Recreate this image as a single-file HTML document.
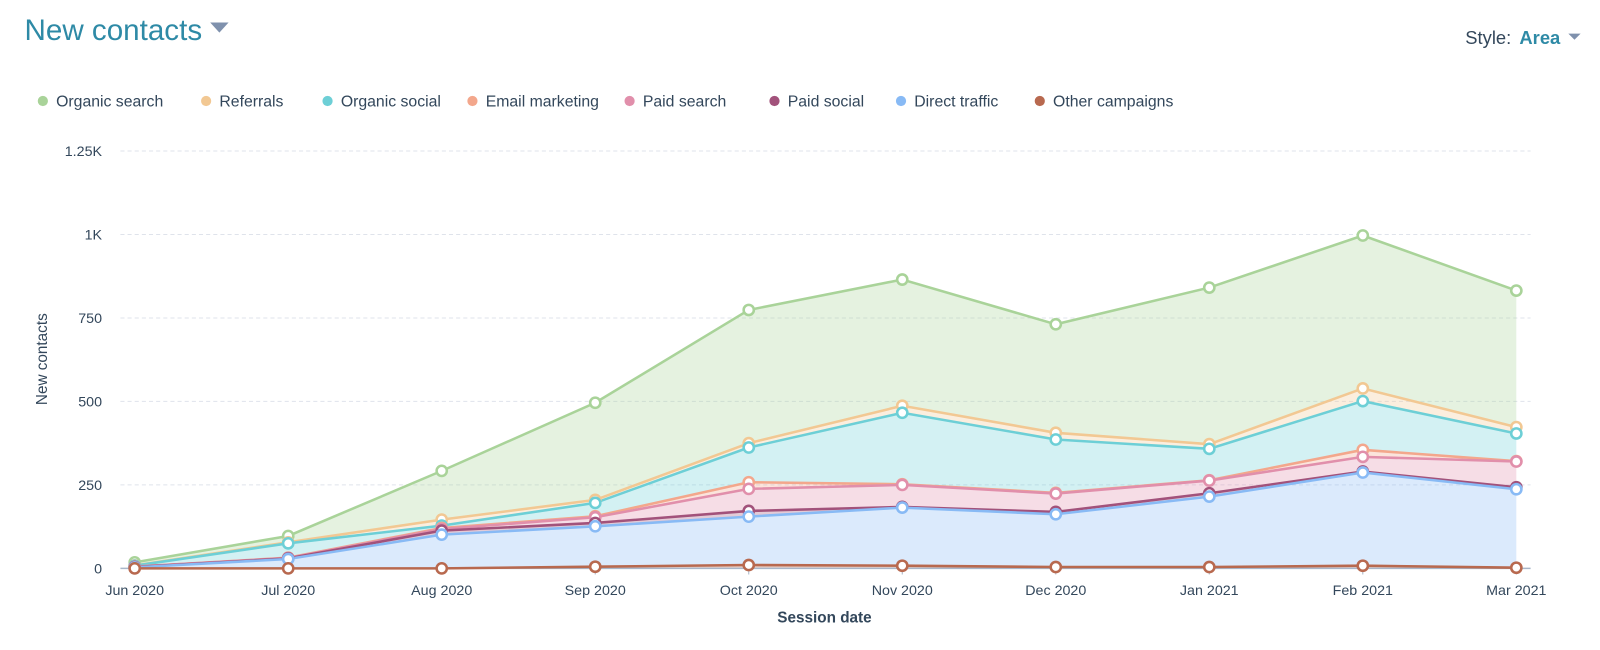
<!DOCTYPE html>
<html><head><meta charset="utf-8">
<style>
body{margin:0;width:1600px;height:650px;background:#fff;font-family:"Liberation Sans",sans-serif;overflow:hidden;position:relative}
#wrap{position:absolute;left:0;top:0;width:1568px;height:637px;transform:scale(1.0204);transform-origin:0 0}
.title{position:absolute;left:24px;top:14px;font-size:29px;color:#2e8aa6;font-weight:500}
.caret{display:inline-block;width:0;height:0;border-left:9px solid transparent;border-right:9px solid transparent;border-top:10px solid #7f91ad;vertical-align:middle;margin-left:8px;position:relative;top:-4px}
.style{position:absolute;left:1436px;top:27px;font-size:18px;color:#33475b}
.style b{color:#2e8aa6;margin-left:8px}
.scaret{display:inline-block;width:0;height:0;border-left:6px solid transparent;border-right:6px solid transparent;border-top:6px solid #7f91ad;margin-left:8px;vertical-align:middle;position:relative;top:-2px}
</style></head><body>
<div id="wrap">
<div class="title">New contacts<span class="caret"></span></div>
<div class="style">Style:<b>Area</b><span class="scaret"></span></div>
<svg id="chart" width="1568" height="637" style="position:absolute;left:0;top:0"></svg>
</div>
<script>
const categories=["Jun 2020","Jul 2020","Aug 2020","Sep 2020","Oct 2020","Nov 2020","Dec 2020","Jan 2021","Feb 2021","Mar 2021"];
const seriesNames=["Other campaigns","Direct traffic","Paid social","Paid search","Email marketing","Organic social","Referrals","Organic search"];
const otherCampaigns=[0,0,0,5,10,8,4,4,8,2];
const directTraffic=[3,28,101,121,145,174,158,211,279,235];
const paidSocial=[1,2,12,10,17,2,7,10,3,6];
const paidSearch=[1,1,5,17,66,66,55,38,44,77];
const emailMarketing=[0,1,3,3,20,2,2,1,21,1];
const organicSocial=[3,43,7,40,104,214,160,94,146,83];
const referrals=[1,3,18,9,13,21,20,14,38,19];
const organicSearch=[9,19,146,291,399,378,325,469,458,409];
const yTicks=[0,250,500,750,1000,1250];
const yTickLabels=["0","250","500","750","1K","1.25K"];
const legendOrder=["Organic search","Referrals","Organic social","Email marketing","Paid search","Paid social","Direct traffic","Other campaigns"];

const colors={"Organic search":"#a9d399","Referrals":"#f2c893","Organic social":"#6dcfd6","Email marketing":"#f3a78c","Paid search":"#e18fab","Paid social":"#a2527b","Direct traffic":"#88baf5","Other campaigns":"#b8694f"};
const data=[otherCampaigns,directTraffic,paidSocial,paidSearch,emailMarketing,organicSocial,referrals,organicSearch];
const svg=document.getElementById('chart');
const NS='http://www.w3.org/2000/svg';
const x0=132,x1=1486,yBase=557,yMax=1250,yTop=148;
const xs=i=>x0+(x1-x0)*i/(categories.length-1);
const ys=v=>yBase-(yBase-yTop)*v/yMax;
function mk(tag,attrs,parent){const e=document.createElementNS(NS,tag);for(const k in attrs)e.setAttribute(k,attrs[k]);(parent||svg).appendChild(e);return e;}

yTicks.forEach((t,i)=>{
  if(t>0){const g=mk('line',{x1:118,x2:1500,y1:ys(t),y2:ys(t),stroke:'#dfe3eb','stroke-dasharray':'4,3'});
  
  }
  const l=mk('text',{x:100,y:ys(t)+5,'text-anchor':'end','font-size':14,fill:'#33475b'});
  l.textContent=yTickLabels[i];
  
  
});
const yt=mk('text',{x:0,y:0,transform:'translate(46,352) rotate(-90)','text-anchor':'middle','font-size':15,fill:'#33475b'});
yt.textContent='New contacts';



const cum=[];let prev=categories.map(()=>0);
data.forEach(s=>{const c=s.map((v,i)=>v+prev[i]);cum.push({lo:prev,hi:c});prev=c;});
cum.forEach((c,k)=>{
  const name=seriesNames[k];
  let d='M'+c.hi.map((v,i)=>xs(i)+','+ys(v)).join('L');
  for(let i=categories.length-1;i>=0;i--)d+='L'+xs(i)+','+ys(c.lo[i]);
  const a=mk('path',{d:d+'Z',fill:colors[name],'fill-opacity':0.3,stroke:'none'});
  
  
});
const ax=mk('line',{x1:118,x2:1500,y1:yBase,y2:yBase,stroke:'#a8b6c9','stroke-width':1.5});


categories.forEach((c,i)=>{
  mk('line',{x1:xs(i),x2:xs(i),y1:yBase,y2:yBase+6,stroke:'#a8b6c9'});
  const t=mk('text',{x:xs(i),y:583,'text-anchor':'middle','font-size':14,fill:'#33475b'});
  t.textContent=c;
  
  
});
const xt=mk('text',{x:808,y:610,'text-anchor':'middle','font-size':15,'font-weight':'bold',fill:'#33475b'});
xt.textContent='Session date';


cum.slice().reverse().forEach((c,kk)=>{
  const name=seriesNames[cum.length-1-kk];
  const l=mk('polyline',{points:c.hi.map((v,i)=>xs(i)+','+ys(v)).join(' '),fill:'none',stroke:colors[name],'stroke-width':2.5});
  
  
});
cum.slice().reverse().forEach((c,kk)=>{
  const name=seriesNames[cum.length-1-kk];
  c.hi.forEach((v,i)=>{
    const m=mk('circle',{cx:xs(i),cy:ys(v),r:5,fill:'#fff',stroke:colors[name],'stroke-width':2.5});
    
    
  });
});
const legX=[42,202,321,463,617,759,883,1019];
legendOrder.forEach((n,i)=>{
  const g=mk('g',{});
  
  
  mk('circle',{cx:legX[i],cy:99,r:5,fill:colors[n]},g);
  const t=mk('text',{x:legX[i]+13,y:104.5,'font-size':15.5,fill:'#33475b'},g);
  t.textContent=n;
});
</script>
</body></html>
